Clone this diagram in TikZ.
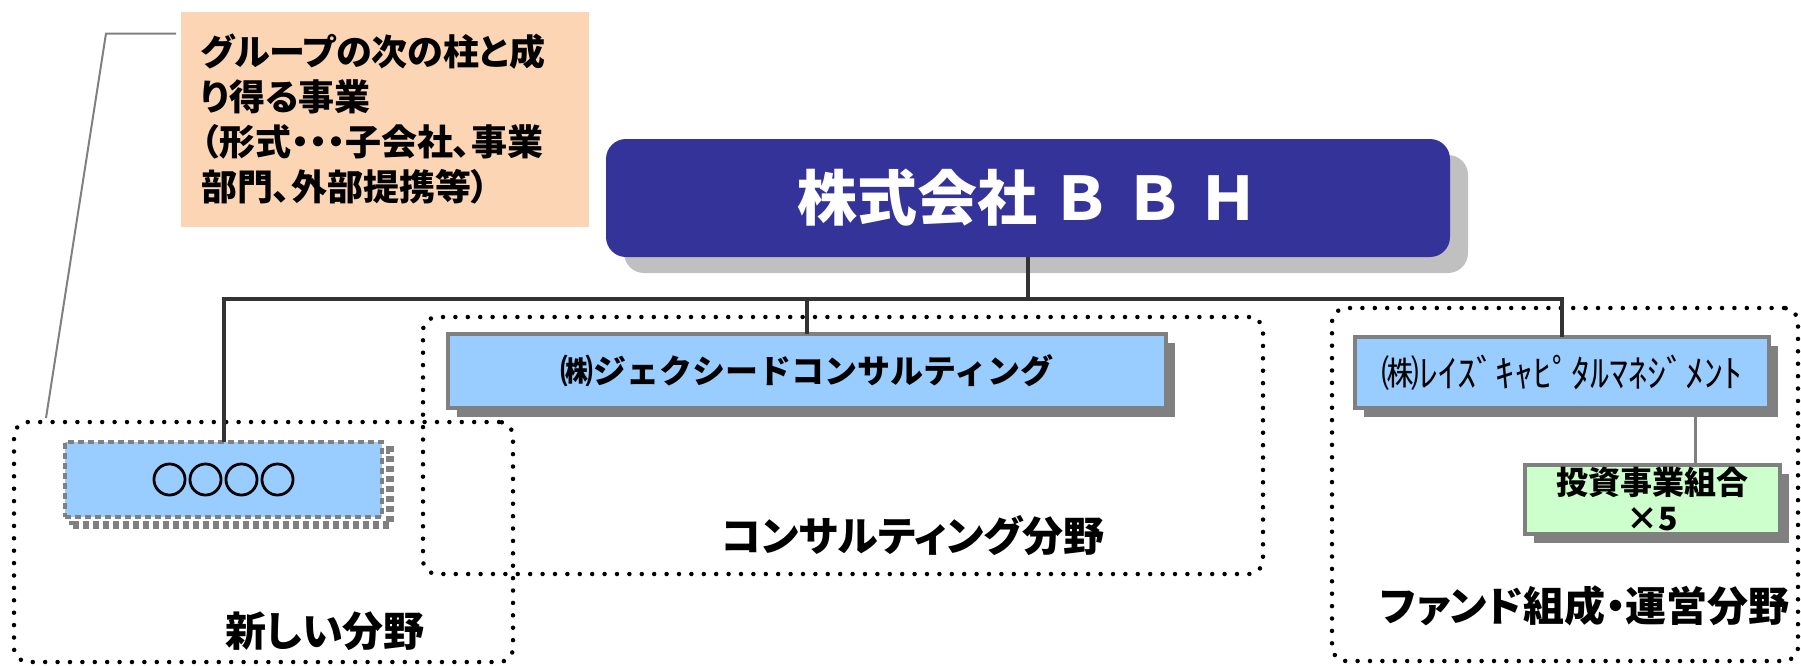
\documentclass[tikz,border=0pt]{standalone}
\usepackage{fontspec}
\setmainfont{Noto Sans CJK JP}
\newfontfamily\propfont[RawFeature=+palt]{Noto Sans CJK JP}
\newfontfamily\heavyfont[FakeBold=4]{Noto Sans CJK JP}
\usetikzlibrary{shadows}

\definecolor{bbhblue}{HTML}{333399}
\definecolor{boxblue}{HTML}{99CCFF}
\definecolor{boxgreen}{HTML}{CCFFCC}
\definecolor{peach}{HTML}{FCD5B4}
\definecolor{darkline}{HTML}{333333}
\definecolor{shadowgray}{HTML}{808080}
\definecolor{lightshadow}{HTML}{C0C0C0}

\begin{document}
\begin{tikzpicture}
        [x=1pt,y=-1pt,
         every node/.style={inner sep=0pt,outer sep=0pt},
         company/.style={draw=shadowgray,line width=4pt,fill=boxblue,
           drop shadow={shadow xshift=9pt,shadow yshift=-9pt,fill=shadowgray,opacity=1}},
         area/.style={draw,line width=4.5pt,dash pattern=on 0pt off 12.4pt,line cap=round,rounded corners=14pt},
         arealabel/.style={font=\propfont\fontsize{41}{46}\selectfont\bfseries},
         conn/.style={draw=darkline,line width=4pt},
         subconn/.style={draw=shadowgray,line width=3pt}]
        \useasboundingbox (0,0) rectangle (1801,665);

        % fields
        \node[area,minimum width=499pt,minimum height=240pt] (newarea) at (263.5,542) {};
        \node[area,minimum width=840pt,minimum height=257pt] (consultarea) at (843,445.5) {};
        \node[area,minimum width=466pt,minimum height=353pt] (fundarea) at (1565,484.5) {};
        \node[arealabel] (newlabel) at (325,631) {新しい分野};
        \node[arealabel] (consultlabel) at (913,536) {コンサルティング分野};
        \node[arealabel] (fundlabel) at (1585,606) {ファンド組成・運営分野};

        % callout
        \node[fill=peach,minimum width=408pt,minimum height=215pt,text width=368pt,align=left,
              font=\propfont\fontsize{36}{45}\selectfont\bfseries] (callout) at (385,119)
              {グループの次の柱と成\\り得る事業\\（形式・・・子会社、事業\\部門、外部提携等）};
        \draw[shadowgray,line width=2pt] ([xshift=-5pt,yshift=-22pt]callout.north west) -- ++(-70,0)
              -- ([xshift=32pt,yshift=4pt]newarea.north west);

        % companies
        \node[fill=bbhblue,rounded corners=20pt,minimum width=844pt,minimum height=118pt,
              text=white,font=\fontsize{60}{66}\selectfont\bfseries,
              drop shadow={shadow xshift=18pt,shadow yshift=-16pt,fill=lightshadow,opacity=1}]
              (bbh) at (1028,198) {株式会社 Ｂ Ｂ Ｈ};
        \node[company,minimum width=718pt,minimum height=74pt,font=\fontsize{33}{36}\selectfont\bfseries]
              (jexid) at (807,371) {㈱ジェクシードコンサルティング};
        \node[company,minimum width=414pt,minimum height=71pt,font=\fontsize{38}{40}\selectfont]
              (raise) at (1562,372.5) {㈱ﾚｲｽﾞｷｬﾋﾟﾀﾙﾏﾈｼﾞﾒﾝﾄ};
        \node[company,fill=boxgreen,minimum width=255pt,minimum height=69pt,align=center,
              font=\fontsize{32}{36}\selectfont\bfseries] (fund) at (1652.5,499.5) {投資事業組合\\×5};
        \node[fill=boxblue,draw=shadowgray,line width=4pt,dash pattern=on 6pt off 4pt,
              minimum width=317pt,minimum height=75pt,font=\heavyfont\fontsize{36}{40}\selectfont,
              drop shadow={shadow xshift=8pt,shadow yshift=-8pt,fill=none,draw=shadowgray,
                line width=8pt,dash pattern=on 6pt off 4pt,opacity=1}]
              (newbox) at (223.5,479.5) {○○○○};

        % connectors
        \coordinate (bus) at (0,299);
        \path[conn] (bbh.south) -- (bbh.south |- bus);
        \path[conn] (newbox.north) |- (bbh.south |- bus) -| (raise.north);
        \path[conn] (jexid.north) -- (jexid.north |- bus);
        \path[subconn] ([xshift=43pt]fund.north) -- ([xshift=43pt]fund.north |- raise.south);

    \end{tikzpicture}
\end{document}
